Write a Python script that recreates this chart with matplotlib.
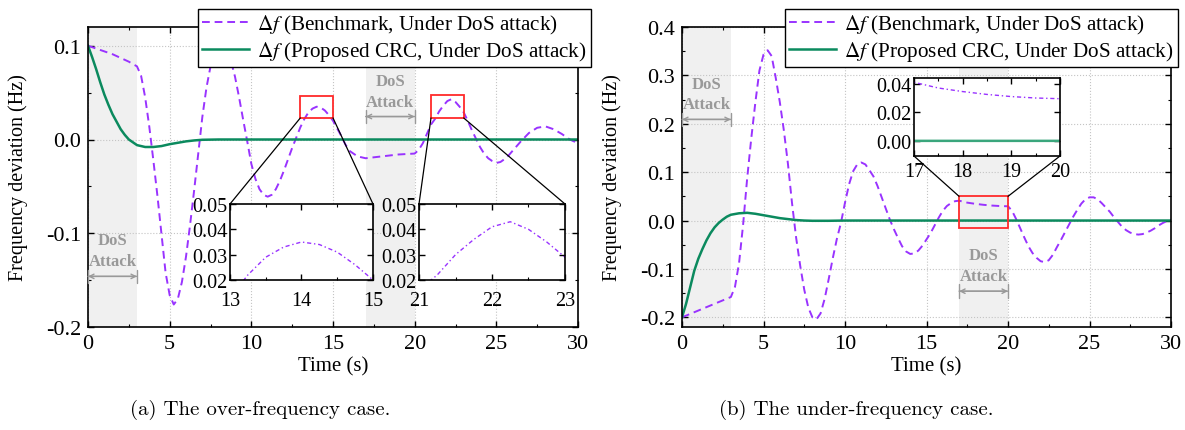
import matplotlib
matplotlib.use('Agg')
import matplotlib.pyplot as plt
from matplotlib.patches import Rectangle, ConnectionPatch
from matplotlib.ticker import MultipleLocator, FixedLocator, FuncFormatter

# ---------------- data ----------------
t_bench_a = [0, 0.5, 1.0, 1.5, 2.0, 2.5, 3.0, 3.25, 3.5, 3.75, 4.0, 4.25, 4.5, 4.75, 5.0, 5.25,
             5.5, 5.75, 6.0, 6.25, 6.5, 6.75, 7.0, 7.25, 7.5, 7.75, 8.0, 8.25, 8.5, 8.75, 9.0,
             9.25, 9.5, 9.75, 10.0, 10.25, 10.5, 10.75, 11.0, 11.25, 11.5, 11.75, 12.0, 12.25,
             12.5, 12.75, 13.0, 13.25, 13.5, 13.75, 14.0, 14.25, 14.5, 14.75, 15.0, 15.25, 15.5,
             15.75, 16.0, 16.5, 17.0, 17.5, 18.0, 18.5, 19.0, 19.5, 20.0, 20.25, 20.5, 20.75,
             21.0, 21.25, 21.5, 21.75, 22.0, 22.25, 22.5, 22.75, 23.0, 23.25, 23.5, 23.75, 24.0,
             24.25, 24.5, 24.75, 25.0, 25.25, 25.5, 25.75, 26.0, 26.5, 27.0, 27.5, 28.0, 28.5,
             29.0, 29.5, 30.0]
f_bench_a = [0.100, 0.097, 0.094, 0.091, 0.087, 0.083, 0.078, 0.068, 0.045, 0.014, -0.022, -0.060,
             -0.101, -0.142, -0.166, -0.176, -0.170, -0.152, -0.125, -0.091, -0.054, -0.015, 0.024,
             0.055, 0.078, 0.093, 0.099, 0.100, 0.094, 0.084, 0.067, 0.045, 0.021, -0.002, -0.026,
             -0.042, -0.053, -0.059, -0.061, -0.059, -0.053, -0.044, -0.033, -0.021, -0.009, 0.002,
             0.013, 0.022, 0.029, 0.033, 0.035, 0.034, 0.031, 0.026, 0.020, 0.012, 0.004, -0.005,
             -0.012, -0.018, -0.020, -0.019, -0.018, -0.017, -0.016, -0.0155, -0.015, -0.011,
             -0.004, 0.006, 0.016, 0.022, 0.030, 0.036, 0.041, 0.043, 0.040, 0.035, 0.029, 0.020,
             0.010, 0.001, -0.008, -0.015, -0.020, -0.023, -0.025, -0.024, -0.021, -0.017, -0.012,
             -0.002, 0.007, 0.0125, 0.014, 0.011, 0.006, 0.000, -0.004]

t_crc_a = [0, 0.25, 0.5, 0.75, 1.0, 1.25, 1.5, 1.75, 2.0, 2.25, 2.5, 2.75, 3.0, 3.5, 4.0, 4.5,
           5.0, 5.5, 6.0, 6.5, 7.0, 8.0, 10.0, 15.0, 20.0, 25.0, 30.0]
f_crc_a = [0.100, 0.088, 0.075, 0.061, 0.048, 0.037, 0.027, 0.019, 0.011, 0.005, 0.000, -0.003,
           -0.006, -0.008, -0.008, -0.007, -0.005, -0.0035, -0.002, -0.001, -0.0003, 0.0, 0.0,
           0.0, 0.0, 0.0, 0.0]

t_bench_b = [0, 0.5, 1.0, 1.5, 2.0, 2.5, 3.0, 3.25, 3.5, 3.75, 4.0, 4.25, 4.5, 4.75, 5.0, 5.25,
             5.5, 5.75, 6.0, 6.25, 6.5, 6.75, 7.0, 7.25, 7.5, 7.75, 8.0, 8.25, 8.5, 8.75, 9.0,
             9.25, 9.5, 9.75, 10.0, 10.25, 10.5, 10.75, 11.0, 11.25, 11.5, 11.75, 12.0, 12.25,
             12.5, 12.75, 13.0, 13.25, 13.5, 13.75, 14.0, 14.25, 14.5, 14.75, 15.0, 15.25, 15.5,
             15.75, 16.0, 16.25, 16.5, 16.75, 17.0, 17.5, 18.0, 18.5, 19.0, 19.5, 20.0, 20.25,
             20.5, 20.75, 21.0, 21.25, 21.5, 21.75, 22.0, 22.25, 22.5, 22.75, 23.0, 23.25, 23.5,
             23.75, 24.0, 24.25, 24.5, 24.75, 25.0, 25.25, 25.5, 25.75, 26.0, 26.25, 26.5, 26.75,
             27.0, 27.25, 27.5, 27.75, 28.0, 28.25, 28.5, 28.75, 29.0, 29.25, 29.5, 29.75, 30.0]
f_bench_b = [-0.200, -0.193, -0.186, -0.179, -0.172, -0.165, -0.158, -0.137, -0.088, -0.008, 0.088,
             0.170, 0.244, 0.310, 0.343, 0.352, 0.340, 0.295, 0.245, 0.186, 0.117, 0.036, -0.035,
             -0.093, -0.143, -0.180, -0.200, -0.204, -0.192, -0.162, -0.121, -0.078, -0.038, -0.005,
             0.037, 0.075, 0.102, 0.116, 0.120, 0.116, 0.104, 0.091, 0.071, 0.048, 0.025, 0.002,
             -0.018, -0.036, -0.053, -0.064, -0.069, -0.068, -0.062, -0.052, -0.039, -0.026, -0.010,
             0.006, 0.020, 0.030, 0.036, 0.040, 0.041, 0.037, 0.0345, 0.0325, 0.031, 0.030, 0.0295,
             0.020, 0.003, -0.016, -0.035, -0.053, -0.067, -0.077, -0.084, -0.086, -0.082, -0.071,
             -0.055, -0.040, -0.024, -0.008, 0.008, 0.022, 0.035, 0.044, 0.048, 0.048, 0.044, 0.036,
             0.027, 0.018, 0.007, -0.003, -0.013, -0.020, -0.025, -0.028, -0.029, -0.028, -0.025,
             -0.021, -0.016, -0.010, -0.005, -0.001, 0.002]

t_crc_b = [0, 0.25, 0.5, 0.75, 1.0, 1.25, 1.5, 1.75, 2.0, 2.25, 2.5, 2.75, 3.0, 3.5, 4.0, 4.5,
           5.0, 5.5, 6.0, 6.5, 7.0, 7.5, 8.0, 9.0, 10.0, 15.0, 20.0, 25.0, 30.0]
f_crc_b = [-0.200, -0.172, -0.138, -0.104, -0.079, -0.059, -0.041, -0.026, -0.014, -0.005, 0.002,
           0.008, 0.012, 0.015, 0.016, 0.014, 0.011, 0.008, 0.005, 0.003, 0.001, 0.0, -0.0005,
           -0.0005, 0.0, 0.0, 0.0, 0.0, 0.0]

attack_windows = [(0, 3), (17, 20)]
xticks_main = [0, 5, 10, 15, 20, 25, 30]
yticks_a = [-0.2, -0.1, 0.0, 0.1]
yticks_b = [-0.2, -0.1, 0.0, 0.1, 0.2, 0.3, 0.4]
legend_labels = [r'$\Delta f$ (Benchmark, Under DoS attack)',
                 r'$\Delta f$ (Proposed CRC, Under DoS attack)']
captions = ['(a) The over-frequency case.', '(b) The under-frequency case.']
xlabel = 'Time (s)'
ylabel = 'Frequency deviation (Hz)'

# ---------------- style ----------------
plt.rcParams.update({
    'font.family': ['Liberation Serif', 'DejaVu Serif'],
    'mathtext.fontset': 'stix',
    'axes.unicode_minus': False,
    'font.size': 14,
})
PURPLE = '#9933ff'
GREEN = '#0b8a5e'
SHADE = '#f0f0f0'
ANNOT = '#999999'

W, H = 1185, 431
fig = plt.figure(figsize=(W / 100, H / 100), dpi=100)


def px_rect(x0, y0, x1, y1):
    return [x0 / W, 1 - y1 / H, (x1 - x0) / W, (y1 - y0) / H]


ax_a = fig.add_axes(px_rect(88, 28, 578, 328))
ax_b = fig.add_axes(px_rect(682, 28, 1171, 328))


def style_ticks(ax, labelsize=16, pad=5, xpad=None):
    ax.tick_params(which='both', direction='in', top=True, right=True, labelsize=labelsize, pad=pad)
    if xpad is not None:
        ax.tick_params(axis='x', which='both', pad=xpad)
    ax.tick_params(which='major', length=4.5, width=1.0)
    ax.tick_params(which='minor', length=2.5, width=0.8)
    for s in ax.spines.values():
        s.set_linewidth(1.2)


def style_main(ax, ylim, yticks):
    ax.set_xlim(0, 30)
    ax.set_ylim(*ylim)
    ax.xaxis.set_major_locator(FixedLocator(xticks_main))
    ax.xaxis.set_minor_locator(MultipleLocator(2.5))
    ax.yaxis.set_major_locator(FixedLocator(yticks))
    ax.yaxis.set_minor_locator(MultipleLocator(0.05))
    ax.yaxis.set_major_formatter(FuncFormatter(lambda v, p: f'{round(v, 1) + 0:.1f}'))
    style_ticks(ax)
    ax.grid(True, which='major', ls=':', color='#c4c4c4', lw=0.8)
    ax.set_axisbelow(True)
    ax.set_xlabel(xlabel, fontsize=15)
    ax.set_ylabel(ylabel, fontsize=14.5)
    ax.xaxis.set_label_coords(0.5, -0.097)
    ax.yaxis.set_label_coords(-0.123, 0.5)
    for s, e in attack_windows:
        ax.axvspan(s, e, color=SHADE, lw=0, zorder=0)


def dos_label(ax, s, e, y_dos, y_att, y_arrow):
    mid = (s + e) / 2
    kw = dict(ha='center', va='center', color=ANNOT, fontweight='bold', fontsize=12, zorder=3)
    ax.text(mid, y_dos, 'DoS', **kw)
    ax.text(mid, y_att, 'Attack', **kw)
    ax.annotate('', xy=(s, y_arrow), xytext=(e, y_arrow),
                arrowprops=dict(arrowstyle='<->', color=ANNOT, lw=1.0, shrinkA=0, shrinkB=0,
                                mutation_scale=8), zorder=3)
    ax.annotate('', xy=(s, y_arrow), xytext=(e, y_arrow),
                arrowprops=dict(arrowstyle='|-|, widthA=0.35, widthB=0.35', color=ANNOT, lw=1.0,
                                shrinkA=0, shrinkB=0), zorder=3)


# ---------------- panel (a) ----------------
style_main(ax_a, (-0.2, 0.12), yticks_a)
la1, = ax_a.plot(t_bench_a, f_bench_a, color=PURPLE, lw=1.4, dashes=(4, 2.5), zorder=2)
la2, = ax_a.plot(t_crc_a, f_crc_a, color=GREEN, lw=1.8, zorder=2.5)
dos_label(ax_a, 0, 3, -0.107, -0.130, -0.146)
dos_label(ax_a, 17, 20, 0.062, 0.040, 0.0245)

# ---------------- panel (b) ----------------
style_main(ax_b, (-0.22, 0.4), yticks_b)
ax_b.plot(t_bench_b, f_bench_b, color=PURPLE, lw=1.4, dashes=(4, 2.5), zorder=2)
ax_b.plot(t_crc_b, f_crc_b, color=GREEN, lw=1.8, zorder=2.5)
dos_label(ax_b, 0, 3, 0.282, 0.240, 0.209)
dos_label(ax_b, 17, 20, -0.072, -0.114, -0.146)


# ---------------- insets ----------------
def make_inset(rect, t_b, f_b, t_c, f_c, xlim, ylim, xt, yt, fmt, xminor, xpad):
    ins = fig.add_axes(rect, zorder=5)
    ins.set_facecolor('white')
    ins.plot(t_b, f_b, color=PURPLE, lw=1.0, dashes=(3, 2, 1, 2))
    ins.plot(t_c, f_c, color='#3aa67c', lw=1.8)
    ins.set_xlim(*xlim)
    ins.set_ylim(*ylim)
    ins.xaxis.set_major_locator(FixedLocator(xt))
    ins.xaxis.set_minor_locator(MultipleLocator(xminor))
    ins.yaxis.set_major_locator(FixedLocator(yt))
    ins.yaxis.set_major_formatter(FuncFormatter(lambda v, p: fmt % (round(v, 3) + 0)))
    style_ticks(ins, labelsize=14.5, pad=2, xpad=xpad)
    return ins


ins1 = make_inset(px_rect(230, 205, 373, 281), t_bench_a, f_bench_a, t_crc_a, f_crc_a,
                  (13, 15), (0.02, 0.05), [13, 14, 15], [0.02, 0.03, 0.04, 0.05], '%.2f', 0.5, 8)
ins2 = make_inset(px_rect(419, 205, 565, 281), t_bench_a, f_bench_a, t_crc_a, f_crc_a,
                  (21, 23), (0.02, 0.05), [21, 22, 23], [0.02, 0.03, 0.04, 0.05], '%.2f', 0.5, 8)
ins3 = make_inset(px_rect(914, 79, 1060, 157), t_bench_b, f_bench_b, t_crc_b, f_crc_b,
                  (17, 20), (-0.0106, 0.044), [17, 18, 19, 20], [0.0, 0.02, 0.04], '%.2f', 0.5, 4.5)

# zoom boxes + connectors
boxes = [(ax_a, 13, 15, 0.023, 0.046, ins1, 'bottom'),
         (ax_a, 21, 23, 0.023, 0.047, ins2, 'bottom'),
         (ax_b, 17, 20, -0.015, 0.050, ins3, 'top')]
for ax, x0, x1, y0, y1, ins, side in boxes:
    ax.add_patch(Rectangle((x0, y0), x1 - x0, y1 - y0, fill=False, ec='#ff2a2a', lw=1.3, zorder=4))
    if side == 'bottom':
        pairs = [((x0, y0), (0, 1)), ((x1, y0), (1, 1))]
    else:
        pairs = [((x0, y1), (0, 0)), ((x1, y1), (1, 0))]
    for pa, pb in pairs:
        cp = ConnectionPatch(xyA=pa, coordsA=ax.transData, xyB=pb, coordsB=ins.transAxes,
                             color='black', lw=0.9, zorder=4)
        fig.add_artist(cp)

# legends
for x_right in (591, 1178):
    leg = fig.legend([la1, la2], legend_labels, loc='upper right',
                     bbox_to_anchor=(x_right / W, 1 - 10 / H), bbox_transform=fig.transFigure,
                     frameon=True, fancybox=False, edgecolor='black', framealpha=1,
                     borderaxespad=0, fontsize=15.2, handlelength=2.2, borderpad=0.2,
                     labelspacing=0.14, handletextpad=0.4)
    leg.get_frame().set_linewidth(1.0)
    leg.set_zorder(10)

# captions
fig.text(260 / W, 1 - 410 / H, captions[0], ha='center', va='center', family='cmr10', fontsize=15)
fig.text(856 / W, 1 - 410 / H, captions[1], ha='center', va='center', family='cmr10', fontsize=15)

fig.savefig('out.png', dpi=100)
